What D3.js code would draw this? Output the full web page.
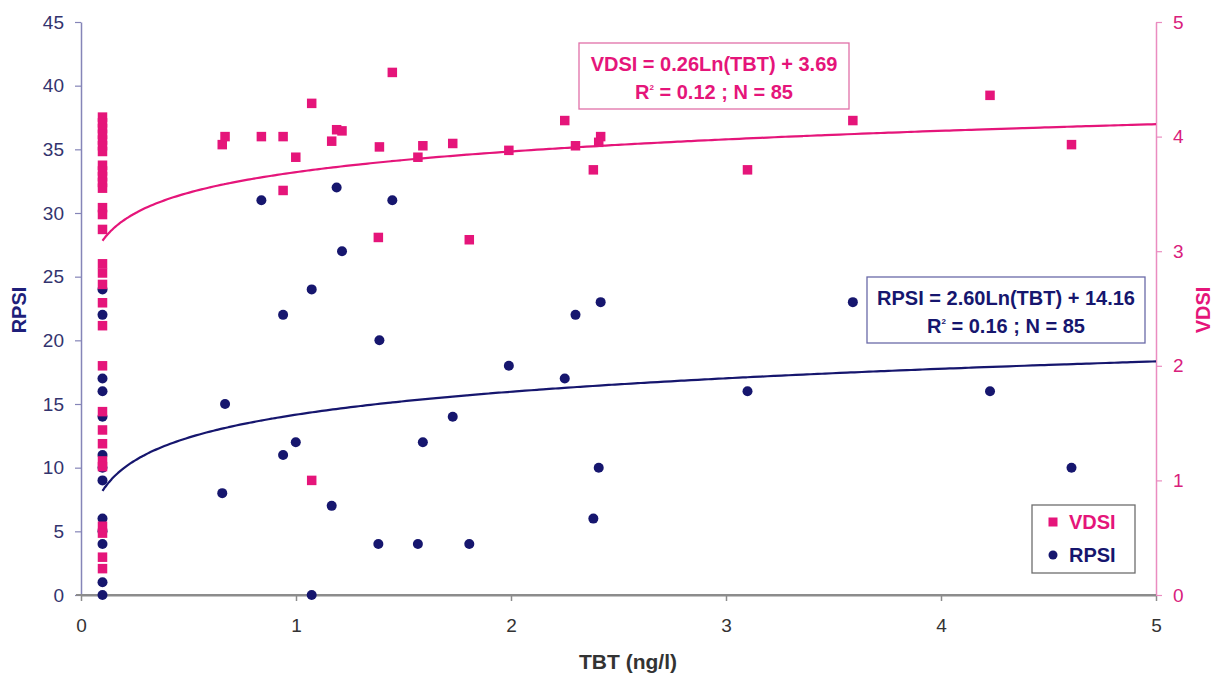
<!DOCTYPE html>
<html>
<head>
<meta charset="utf-8">
<script src="https://cdn.jsdelivr.net/npm/d3@7"></script>
<style>
  html, body { margin: 0; padding: 0; background: #ffffff; }
  svg { display: block; font-family: "Liberation Sans", Arial, sans-serif; }
</style>
</head>
<body>
<svg id="chart" width="1213" height="675"></svg>
<script>
// ---------------- data ----------------
// VDSI (squares, right axis)
const vdsiTBT = [
  0.1,0.1,0.1,0.1,0.1,0.1,0.1,0.1,0.1,0.1,0.1,0.1,0.1,0.1,0.1,
  0.1,0.1,0.1,0.1,0.1,0.1,0.1,0.1,0.1,0.1,0.1,0.1,0.1,0.1,0.1,
  0.657,0.67,0.839,0.94,0.94,0.999,1.073,1.073,1.166,1.189,1.214,1.388,1.383,1.448,
  1.567,1.59,1.729,1.806,1.99,2.25,2.30,2.383,2.417,2.408,3.10,3.59,4.228,4.607
];
const vdsiValues = [
  4.17,4.12,4.07,4.02,3.97,3.92,3.87,3.75,3.70,3.65,3.60,3.55,3.38,3.32,3.19,
  2.89,2.81,2.71,2.55,2.35,2.00,1.60,1.44,1.32,1.17,1.12,0.60,0.54,0.33,0.23,
  3.93,4.00,4.00,4.00,3.53,3.82,4.29,1.00,3.96,4.06,4.05,3.91,3.12,4.56,
  3.82,3.92,3.94,3.10,3.88,4.14,3.92,3.71,4.00,3.95,3.71,4.14,4.36,3.93
];
// RPSI (circles, left axis)
const rpsiTBT = [
  0.1,0.1,0.1,0.1,0.1,0.1,0.1,0.1,0.1,0.1,0.1,0.1,0.1,
  0.657,0.67,0.839,0.94,0.94,0.999,1.073,1.073,1.166,1.189,1.214,1.388,1.383,1.448,
  1.567,1.59,1.729,1.806,1.99,2.25,2.30,2.383,2.417,2.408,3.10,3.59,4.228,4.607
];
const rpsiValues = [
  24,22,17,16,14,11,10,9,6,5,4,1,0,
  8,15,31,22,11,12,24,0,7,32,27,20,4,31,
  4,12,14,4,18,17,22,6,23,10,16,23,16,10
];
// trend lines (logarithmic fits as printed on the chart)
const vdsiFit = { a: 0.26, b: 3.69 };
const rpsiFit = { a: 2.60, b: 14.16 };
const fitRange = [0.1, 5];

const xTicks = [0, 1, 2, 3, 4, 5];
const leftTicks = [0, 5, 10, 15, 20, 25, 30, 35, 40, 45];
const rightTicks = [0, 1, 2, 3, 4, 5];

// ---------------- styling ----------------
const PINK = "#E5157A";
const NAVY = "#16166E";

const svg = d3.select("#chart");
const x = d3.scaleLinear().domain([0, 5]).range([81, 1156]);
const yL = d3.scaleLinear().domain([0, 45]).range([595, 22]);
const yR = d3.scaleLinear().domain([0, 5]).range([595, 22]);

// x axis
const gx = svg.append("g").attr("transform", "translate(0,595)")
  .call(d3.axisBottom(x).tickValues(xTicks).tickFormat(d3.format("d")).tickSizeInner(6).tickSizeOuter(0).tickPadding(18));
gx.select(".domain").attr("stroke", "#8c8c8c").attr("stroke-width", 2);
gx.selectAll(".tick line").attr("stroke", "#8c8c8c").attr("stroke-width", 1.5);
gx.selectAll(".tick text").attr("fill", "#333333").attr("font-size", 19);

// left axis
const gl = svg.append("g").attr("transform", "translate(81,0)")
  .call(d3.axisLeft(yL).tickValues(leftTicks).tickFormat(d3.format("d")).tickSizeInner(6).tickSizeOuter(0).tickPadding(11));
gl.select(".domain").attr("stroke", "#8585b8").attr("stroke-width", 1.5);
gl.selectAll(".tick line").attr("stroke", "#8585b8").attr("stroke-width", 1.2);
gl.selectAll(".tick text").attr("fill", "#33336e").attr("font-size", 19);

// right axis
const gr = svg.append("g").attr("transform", "translate(1156,0)")
  .call(d3.axisRight(yR).tickValues(rightTicks).tickFormat(d3.format("d")).tickSizeInner(6).tickSizeOuter(0).tickPadding(11));
gr.select(".domain").attr("stroke", "#ea8cc0").attr("stroke-width", 1.5);
gr.selectAll(".tick line").attr("stroke", "#ea8cc0").attr("stroke-width", 1.2);
gr.selectAll(".tick text").attr("fill", "#d9207c").attr("font-size", 19);

// redraw x baseline on top of left axis
svg.append("line").attr("x1", 76).attr("x2", 1156).attr("y1", 595).attr("y2", 595)
  .attr("stroke", "#8c8c8c").attr("stroke-width", 2);

// axis titles
svg.append("text").attr("transform", "translate(26,310) rotate(-90)")
  .attr("text-anchor", "middle").attr("font-size", 20).attr("font-weight", "bold")
  .attr("fill", "#1f1f7a").text("RPSI");
svg.append("text").attr("transform", "translate(1210,310) rotate(-90)")
  .attr("text-anchor", "middle").attr("font-size", 20).attr("font-weight", "bold")
  .attr("fill", PINK).text("VDSI");
svg.append("text").attr("x", 628).attr("y", 669)
  .attr("text-anchor", "middle").attr("font-size", 21).attr("font-weight", "bold")
  .attr("fill", "#333333").text("TBT (ng/l)");

// RPSI circles (primary axis, drawn first)
const rpsiData = rpsiTBT.map((t, i) => ({ t, v: rpsiValues[i] }));
svg.append("g").selectAll("circle").data(rpsiData).join("circle")
  .attr("cx", d => x(d.t)).attr("cy", d => yL(d.v)).attr("r", 5)
  .attr("fill", NAVY);

// VDSI squares (secondary axis, drawn on top)
const vdsiData = vdsiTBT.map((t, i) => ({ t, v: vdsiValues[i] }));
const S = 9.5;
svg.append("g").selectAll("rect").data(vdsiData).join("rect")
  .attr("x", d => x(d.t) - S / 2).attr("y", d => yR(d.v) - S / 2)
  .attr("width", S).attr("height", S).attr("fill", PINK);

// trend lines
const fitXs = d3.range(0, 201).map(i => fitRange[0] + (fitRange[1] - fitRange[0]) * Math.pow(i / 200, 1.6));
const lineR = d3.line().x(d => x(d)).y(d => yL(rpsiFit.a * Math.log(d) + rpsiFit.b)).curve(d3.curveMonotoneX);
const lineV = d3.line().x(d => x(d)).y(d => yR(vdsiFit.a * Math.log(d) + vdsiFit.b)).curve(d3.curveMonotoneX);
svg.append("path").attr("d", lineR(fitXs)).attr("fill", "none").attr("stroke", NAVY).attr("stroke-width", 2.2);
svg.append("path").attr("d", lineV(fitXs)).attr("fill", "none").attr("stroke", PINK).attr("stroke-width", 2.2);

// equation boxes
function eqBox(x0, y0, w, h, stroke, color, line1, r2, n) {
  const g = svg.append("g");
  g.append("rect").attr("x", x0).attr("y", y0).attr("width", w).attr("height", h)
    .attr("fill", "#ffffff").attr("stroke", stroke).attr("stroke-width", 1.3);
  const cx = x0 + w / 2;
  g.append("text").attr("x", cx).attr("y", y0 + 28).attr("text-anchor", "middle")
    .attr("font-size", 20).attr("font-weight", "bold").attr("fill", color).text(line1);
  const t2 = g.append("text").attr("x", cx).attr("y", y0 + 56).attr("text-anchor", "middle")
    .attr("font-size", 20).attr("font-weight", "bold").attr("fill", color);
  t2.append("tspan").text("R");
  t2.append("tspan").attr("dy", -9).attr("font-size", 8).text("2");
  t2.append("tspan").attr("dy", 9).text(" = " + r2 + " ; N = " + n);
}
eqBox(579, 43, 270, 66, "#e070a8", PINK, "VDSI = 0.26Ln(TBT) + 3.69", "0.12", 85);
eqBox(867, 277, 278, 66, "#6a6aa8", NAVY, "RPSI = 2.60Ln(TBT) + 14.16", "0.16", 85);

// legend
const lg = svg.append("g");
lg.append("rect").attr("x", 1032).attr("y", 505).attr("width", 103).attr("height", 68)
  .attr("fill", "#ffffff").attr("stroke", "#6e6e6e").attr("stroke-width", 1.3);
lg.append("rect").attr("x", 1048.5).attr("y", 517.5).attr("width", 9).attr("height", 9).attr("fill", PINK);
lg.append("text").attr("x", 1069).attr("y", 529).attr("font-size", 20).attr("font-weight", "bold")
  .attr("fill", PINK).text("VDSI");
lg.append("circle").attr("cx", 1053).attr("cy", 555).attr("r", 4.5).attr("fill", NAVY);
lg.append("text").attr("x", 1069).attr("y", 562).attr("font-size", 20).attr("font-weight", "bold")
  .attr("fill", NAVY).text("RPSI");
</script>
</body>
</html>
